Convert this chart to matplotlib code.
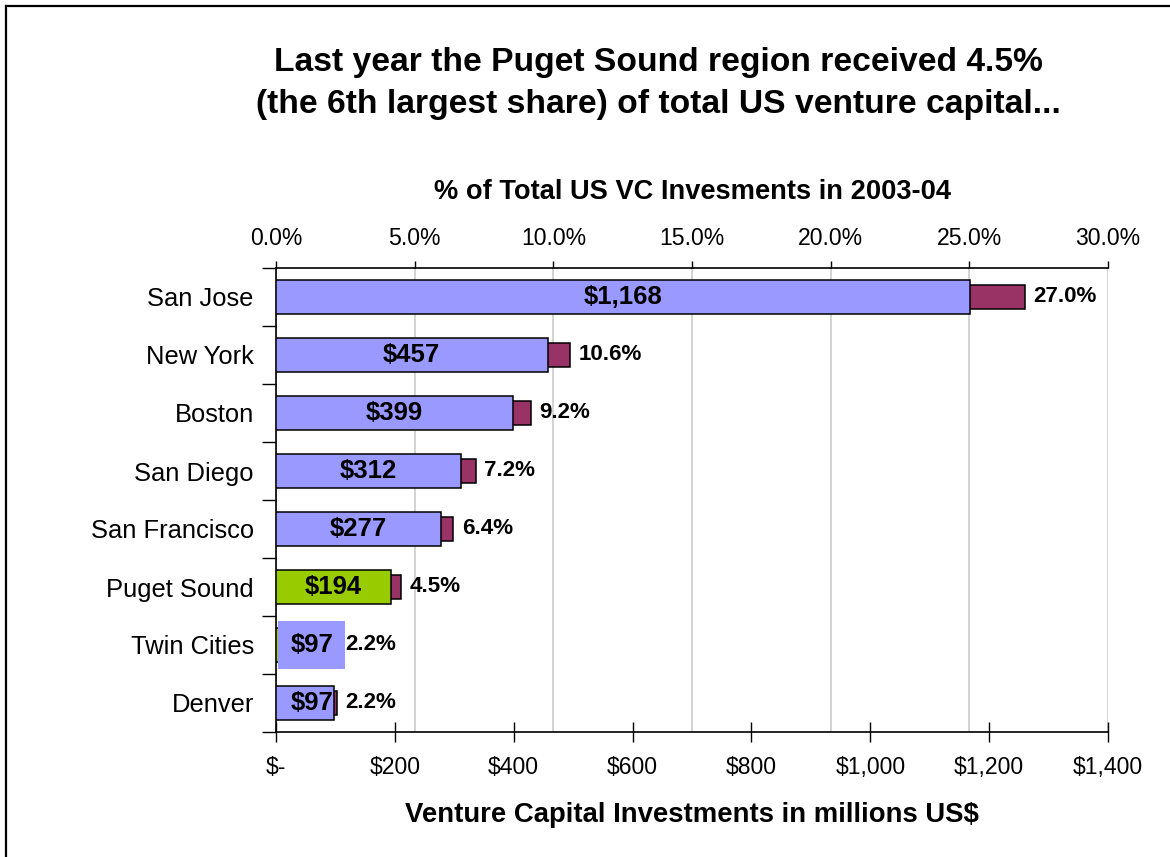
import matplotlib
matplotlib.use('Agg')
import matplotlib.pyplot as plt
from matplotlib.lines import Line2D
from matplotlib.ticker import FuncFormatter, FixedLocator

#-----------------------------------------------------------------------
# data

regions = ['San Jose', 'New York', 'Boston', 'San Diego', 'San Francisco',
           'Puget Sound', 'Twin Cities', 'Denver']
vc_millions = [1168, 457, 399, 312, 277, 194, 97, 97]
vc_share = [27.0, 10.6, 9.2, 7.2, 6.4, 4.5, 2.2, 2.2]
dollar_ticks = [0, 200, 400, 600, 800, 1000, 1200, 1400]
share_ticks = [0, 5, 10, 15, 20, 25, 30]

BLUE = '#9999FF'
MAROON = '#993366'
GREEN = '#99CC00'

plt.rcParams['font.family'] = ['Liberation Sans', 'DejaVu Sans']

#-----------------------------------------------------------------------

fig = plt.figure(figsize=(11.7, 8.57), dpi=100)
ax = fig.add_axes([276/1170, 1 - 732/857, (1108 - 276)/1170, (732 - 268)/857])
ax2 = ax.twiny()

# dollar axis drawn above the share axis
ax.set_zorder(2)
ax.patch.set_visible(False)
ax2.set_zorder(1)

ypos = list(range(len(regions)))

# share bars (top axis)
ax2.barh(ypos, vc_share, height=0.43, color=MAROON, edgecolor='black',
         linewidth=1.1, zorder=2)
ax2.set_xlim(0, 30)
ax2.set_ylim(7.5, -0.5)
ax2.xaxis.set_major_locator(FixedLocator(share_ticks))
ax2.xaxis.set_major_formatter(FuncFormatter(lambda v, p: '%.1f%%' % v))
ax2.grid(axis='x', color='#C8C8C8', linewidth=1.1, zorder=0)
ax2.set_axisbelow(True)
ax2.tick_params(axis='x', direction='out', length=5, width=1, labelsize=16.6,
                pad=8, colors='black')
ax2.set_xlabel('% of Total US VC Invesments in 2003-04', fontsize=19.6,
               fontweight='bold', labelpad=20)
for s in ['left', 'right', 'bottom']:
    ax2.spines[s].set_visible(False)
ax2.spines['top'].set_linewidth(1.2)

# dollar bars (bottom axis)
colors = [BLUE] * len(regions)
colors[regions.index('Puget Sound')] = GREEN
colors[regions.index('Twin Cities')] = GREEN
ax.barh(ypos, vc_millions, height=0.6, color=colors, edgecolor='black',
        linewidth=1.1, zorder=3)
ax.set_xlim(0, 1400)
ax.set_ylim(7.5, -0.5)
ax.xaxis.set_major_locator(FixedLocator(dollar_ticks))
ax.xaxis.set_major_formatter(FuncFormatter(
    lambda v, p: '$-' if v == 0 else '${:,.0f}'.format(v)))
ax.tick_params(axis='x', direction='inout', length=14, width=1,
               labelsize=16.6, pad=10)
ax.set_xlabel('Venture Capital Investments in millions US$', fontsize=19.8,
              fontweight='bold', labelpad=17)

# category labels at centres, ticks at the boundaries
ax.set_yticks(ypos)
ax.set_yticklabels(regions, fontsize=18.4)
ax.tick_params(axis='y', which='major', length=0, pad=16)
ax.set_yticks([y + 0.5 for y in range(-1, len(regions))], minor=True)
ax.tick_params(axis='y', which='minor', direction='out', length=10, width=1)
ax.spines['top'].set_visible(False)
ax.spines['right'].set_visible(False)
ax.spines['left'].set_linewidth(1.2)
ax.spines['bottom'].set_linewidth(1.2)

# labels
for i, (m, s) in enumerate(zip(vc_millions, vc_share)):
    box = None
    if regions[i] == 'Twin Cities':
        box = dict(boxstyle='square,pad=0.47', facecolor=BLUE, edgecolor='none')
    shift = 5 if m < 100 else 0
    ax.annotate('${:,}'.format(m), (m / 2, i), xytext=(shift, 0),
                textcoords='offset points', ha='center', va='center',
                fontsize=18.5, fontweight='bold', zorder=5, bbox=box)
    ax2.annotate('%.1f%%' % s, (s, i), xytext=(6, 0),
                 textcoords='offset points', ha='left', va='center',
                 fontsize=16.1, fontweight='bold', zorder=5)

# title
fig.text(0.563, 1 - 62/857, 'Last year the Puget Sound region received 4.5%',
         ha='center', va='center', fontsize=24.2, fontweight='bold')
fig.text(0.563, 1 - 105/857, '(the 6th largest share) of total US venture capital...',
         ha='center', va='center', fontsize=24.2, fontweight='bold')

# frame along the left and top edge
fig.add_artist(Line2D([6/1170, 6/1170], [0, 1 - 6/857], color='black',
                      linewidth=1.6, transform=fig.transFigure))
fig.add_artist(Line2D([6/1170, 1], [1 - 6/857, 1 - 6/857], color='black',
                      linewidth=1.6, transform=fig.transFigure))

fig.savefig('out.png', dpi=100)
